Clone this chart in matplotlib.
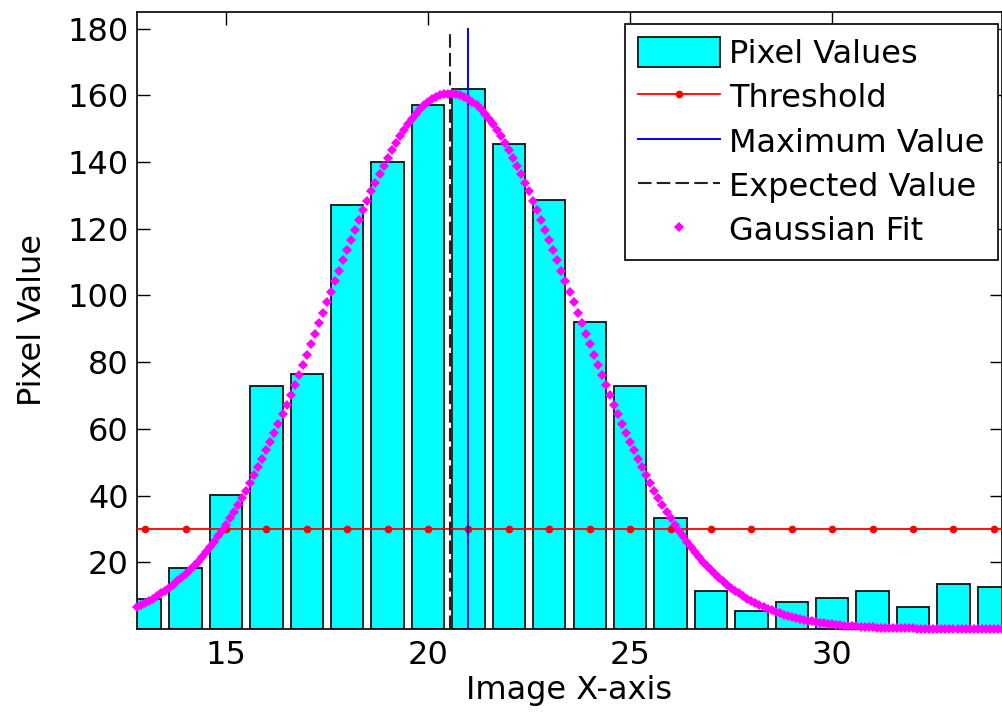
import numpy as np
import matplotlib
matplotlib.use("Agg")
from matplotlib import pyplot as plt

# bar data
pixel_x = [13, 14, 15, 16, 17, 18, 19, 20, 21, 22, 23,
           24, 25, 26, 27, 28, 29, 30, 31, 32, 33, 34]
pixel_values = [9, 18.4, 40.3, 73, 76.4, 127, 140, 157, 162, 145.5, 128.6,
                92, 73, 33.2, 11.3, 5.3, 8, 9.3, 11.3, 6.6, 13.5, 12.5]

threshold_x = list(range(12, 36))
threshold_value = 30

max_x = 21.0
expected_x = 20.55
vline_top = 180

# gaussian fit parameters (amplitude, mean, sigma)
fit_amp = 160.5
fit_mu = 20.55
fit_sigma = 3.07
fit_x = np.arange(12.8, 34.25, 0.1)
fit_y = fit_amp * np.exp(-(fit_x - fit_mu) ** 2 / (2 * fit_sigma ** 2))

plt.rcParams['font.family'] = ['DejaVu Sans']
fs = 23
fig = plt.figure(figsize=(10.03, 7.13), dpi=100)
ax = fig.add_axes([0.1366, 0.1178, 0.8624, 0.8655])

ax.bar(pixel_x, pixel_values, width=0.8, color='#00FFFF', edgecolor='#111111',
       linewidth=1.3, label='Pixel Values', zorder=2)
ax.plot(threshold_x, [threshold_value] * len(threshold_x), color='red', linewidth=1.3,
        marker='o', markersize=5.5, markeredgewidth=0, label='Threshold', zorder=3)
ax.plot([max_x, max_x], [0, vline_top], color='blue', linewidth=1.4,
        label='Maximum Value', zorder=3)
ax.plot([expected_x, expected_x], [0, vline_top], color='#222222', linewidth=1.5,
        linestyle=(0, (6.5, 2.5)), label='Expected Value', zorder=3)
ax.plot(fit_x, fit_y, linestyle='none', marker='D', markersize=4.8,
        color='magenta', markeredgewidth=0, label='Gaussian Fit', zorder=4,
        clip_on=False)

ax.set_xlim(12.8, 34.2)
ax.set_ylim(0, 185)
ax.set_xticks([15, 20, 25, 30])
ax.set_yticks([20, 40, 60, 80, 100, 120, 140, 160, 180])
ax.tick_params(direction='in', length=9, width=1.0, top=True, right=True,
               labelsize=fs, pad=6)
ax.tick_params(axis='x', pad=8)
for s in ax.spines.values():
    s.set_linewidth(1.2)

ax.set_xlabel('Image X-axis', fontsize=fs, labelpad=3)
ax.set_ylabel('Pixel Value', fontsize=fs, labelpad=14)

handles, labels = ax.get_legend_handles_labels()
order = [labels.index(n) for n in ['Pixel Values', 'Threshold', 'Maximum Value',
                                   'Expected Value', 'Gaussian Fit']]
leg = ax.legend([handles[i] for i in order], [labels[i] for i in order],
                loc='upper right', bbox_to_anchor=(0.9954, 0.9805),
                borderaxespad=0, fontsize=fs, fancybox=False, framealpha=1,
                edgecolor='black', handlelength=2.57, handleheight=1.05,
                handletextpad=0.28, labelspacing=0.36, borderpad=0.42)
leg.get_frame().set_linewidth(1.2)

fig.savefig('out.png', dpi=100)
